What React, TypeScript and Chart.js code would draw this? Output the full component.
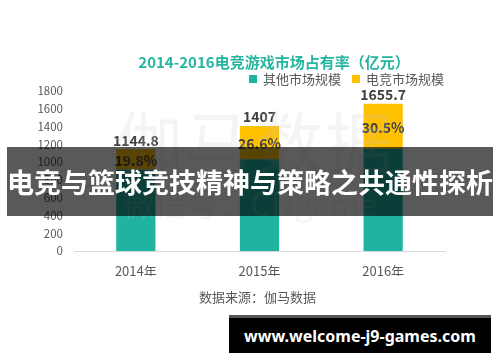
import React, { useEffect, useRef } from "react";
import { Chart, registerables } from "chart.js";

Chart.register(...registerables);

const categories = ["2014年", "2015年", "2016年"];
const otherMarket = [918.1, 1032.7, 1150.7];
const esportsMarket = [226.7, 374.3, 505.0];
const totalLabels = ["1144.8", "1407", "1655.7"];
const shareLabels = ["19.8%", "26.6%", "30.5%"];
const seriesNames = ["其他市场规模", "电竞市场规模"];
const yTicks = [0, 200, 400, 600, 800, 1000, 1200, 1400, 1600, 1800];

const TEAL = "#20B3A0";
const YELLOW = "#FFC000";
const CJK = '"Noto Sans CJK SC", "Noto Sans", sans-serif';

const headerPlugin = {
  id: "header",
  afterDraw(chart: any) {
    const ctx = chart.ctx;
    ctx.save();
    ctx.fillStyle = "#26B5A1";
    ctx.font = `bold 15px ${CJK}`;
    ctx.textAlign = "center";
    ctx.textBaseline = "middle";
    ctx.fillText("2014-2016电竞游戏市场占有率（亿元）", 274, 62);
    ctx.font = `13px ${CJK}`;
    ctx.textAlign = "left";
    const starts = [249, 352];
    chart.data.datasets.forEach((ds: any, i: number) => {
      ctx.fillStyle = ds.backgroundColor;
      ctx.fillRect(starts[i], 75, 8, 8);
      ctx.fillStyle = "#595959";
      ctx.fillText(ds.label, starts[i] + 14, 79.5);
    });
    ctx.textAlign = "center";
    ctx.fillText("数据来源：伽马数据", 257.5, 297);
    ctx.restore();
  },
};

const labelPlugin = {
  id: "barLabels",
  afterDatasetsDraw(chart: any) {
    const ctx = chart.ctx;
    const meta = chart.getDatasetMeta(1);
    ctx.save();
    ctx.fillStyle = "#404040";
    ctx.textAlign = "center";
    ctx.textBaseline = "middle";
    ctx.font = `bold 14px ${CJK}`;
    meta.data.forEach((bar: any, i: number) => {
      ctx.fillText(totalLabels[i], bar.x, bar.y - 9);
      ctx.fillText(shareLabels[i], bar.x, (bar.y + bar.base) / 2 + 1);
    });
    ctx.restore();
  },
};

export default function App() {
  const ref = useRef<HTMLCanvasElement>(null);
  useEffect(() => {
    if (!ref.current) return;
    const chart = new Chart(ref.current, {
      type: "bar",
      data: {
        labels: categories,
        datasets: [
          { label: seriesNames[0], data: otherMarket, backgroundColor: TEAL, categoryPercentage: 1, barPercentage: 0.317 },
          { label: seriesNames[1], data: esportsMarket, backgroundColor: YELLOW, categoryPercentage: 1, barPercentage: 0.317 },
        ],
      },
      options: {
        animation: false,
        responsive: true,
        maintainAspectRatio: false,
        layout: { padding: { left: 0, right: 55, top: 91, bottom: 86 } },
        plugins: { legend: { display: false }, title: { display: false }, tooltip: { enabled: false } },
        scales: {
          x: {
            stacked: true,
            grid: { display: false, drawTicks: false },
            border: { display: true, color: "#D9D9D9", width: 1 },
            ticks: { color: "#595959", font: { family: CJK, size: 13 }, padding: 12 },
            afterFit: (s: any) => { s.height = 25; },
          },
          y: {
            stacked: true,
            min: 0,
            max: 1800,
            afterBuildTicks: (s: any) => { s.ticks = yTicks.map((v) => ({ value: v })); },
            grid: { display: false, drawTicks: false },
            border: { display: false },
            ticks: { color: "#595959", font: { family: CJK, size: 11.5 }, padding: 11, callback: (v: any) => String(v) },
            afterFit: (s: any) => { s.width = 74; },
          },
        },
      },
      plugins: [headerPlugin, labelPlugin],
    });
    return () => chart.destroy();
  }, []);

  return (
    <div style={{ position: "fixed", left: 0, top: 0, width: 500, height: 362, background: "#fff", overflow: "hidden" }}>
      <canvas ref={ref} />
      <div style={{ position: "absolute", left: 0, top: 0, width: 500, height: 362, pointerEvents: "none" }}>
        <div style={{ position: "absolute", left: 110, top: 100, width: 290, textAlign: "center", font: `68px ${CJK}`, color: "rgba(200,200,200,0.2)", lineHeight: "80px", letterSpacing: 2 }}>伽马数据</div>
        <div style={{ position: "absolute", left: 110, top: 182, width: 280, textAlign: "center", font: `32px ${CJK}`, color: "rgba(200,200,200,0.2)", lineHeight: "40px" }}>微信号：CNgame</div>
        <div style={{ position: "absolute", left: 7, top: 147, width: 486, height: 69, background: "rgba(0,0,0,0.65)", color: "#fff", font: `bold 27px ${CJK}`, display: "flex", alignItems: "center", justifyContent: "center", whiteSpace: "nowrap" }}>电竞与篮球竞技精神与策略之共通性探析</div>
        <div style={{ position: "absolute", left: 229, top: 315, width: 262, height: 35, background: "#000", borderTop: "3px solid #555", color: "#fff", font: `bold 16px "Noto Sans", sans-serif`, display: "flex", alignItems: "center", justifyContent: "center", whiteSpace: "nowrap" }}>www.welcome-j9-games.com</div>
      </div>
    </div>
  );
}
